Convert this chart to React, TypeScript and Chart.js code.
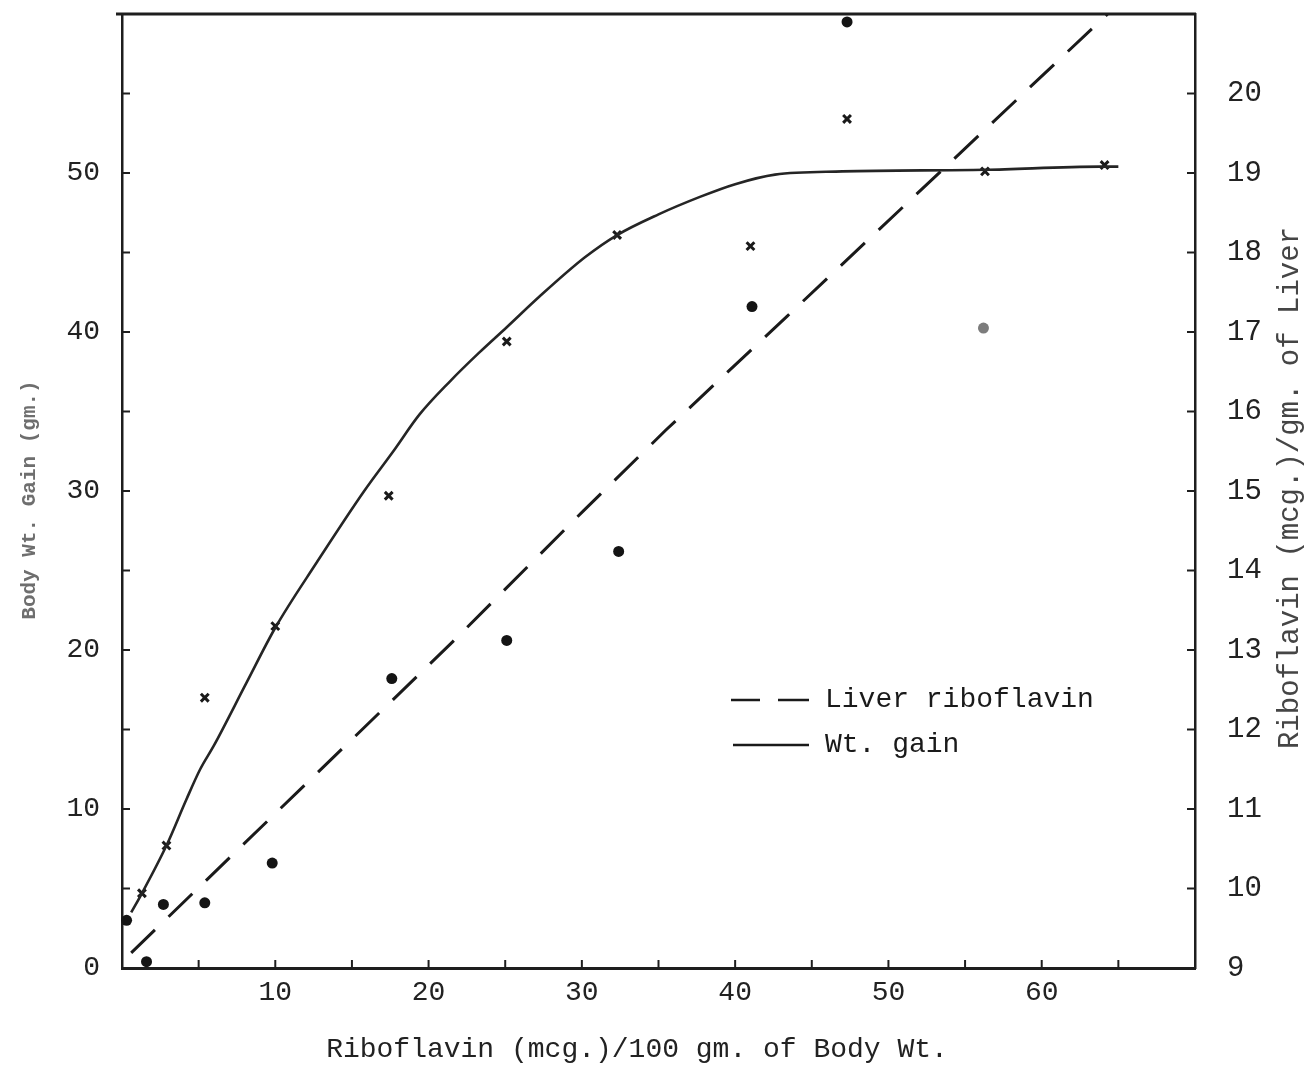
import { useEffect, useRef } from 'react';
import { Chart, registerables } from 'chart.js';

Chart.register(...registerables);

const FONT = '"Liberation Mono", "DejaVu Sans Mono", monospace';

// Tick labels
const doseTickLabels = [10, 20, 30, 40, 50, 60];
const gainTickLabels = [0, 10, 20, 30, 40, 50];
const liverTickLabels = [9, 10, 11, 12, 13, 14, 15, 16, 17, 18, 19, 20];

// Body weight gain (gm.) observed per riboflavin dose (mcg./100 gm. body wt.)
const gainDose = [1.3, 2.9, 5.4, 10.0, 17.4, 25.1, 32.3, 41.0, 47.3, 56.3, 64.1];
const gainValue = [4.7, 7.7, 17.0, 21.5, 29.7, 39.4, 46.1, 45.4, 53.4, 50.1, 50.5];

// Smoothed weight-gain curve
const gainCurveDose = [0.6, 1.3, 2.9, 4.2, 5.1, 6.0, 8.1, 10.0, 12.7, 15.8, 17.7, 19.4, 21.4, 23.3, 25.1, 27.2, 30.2, 32.3, 35.0, 37.7, 40.0, 42.6, 47.0, 56.3, 63.8, 65.0];
const gainCurveValue = [3.5, 4.7, 7.7, 10.6, 12.5, 14.0, 17.9, 21.4, 25.5, 30.0, 32.5, 34.8, 36.9, 38.7, 40.3, 42.2, 44.7, 46.1, 47.4, 48.5, 49.3, 49.9, 50.1, 50.2, 50.4, 50.4];

// Liver riboflavin (mcg./gm. of liver) observed per dose
const liverDose = [0.3, 1.6, 2.7, 5.4, 9.8, 17.6, 25.1, 32.4, 41.1, 47.3, 56.2];
const liverValue = [9.6, 9.08, 9.8, 9.82, 10.32, 12.64, 13.12, 14.24, 17.32, 20.9, 17.05];

// Fitted liver riboflavin line
const liverLineDose = [0.6, 21.4, 30.1, 35.5, 43.4, 64.3];
const liverLineValue = [9.19, 13.07, 14.75, 15.77, 17.2, 21.0];

const pairs = (xs: number[], ys: number[]) => xs.map((x, i) => ({ x, y: ys[i] }));

const framePlugin = {
  id: 'frame',
  afterDraw(chart: any) {
    const { ctx, chartArea: a, scales } = chart;
    const sx = scales.x;
    const sy = scales.y;
    const sy2 = scales.y2;
    const seg = (x1: number, y1: number, x2: number, y2: number) => {
      ctx.beginPath();
      ctx.moveTo(x1, y1);
      ctx.lineTo(x2, y2);
      ctx.stroke();
    };
    ctx.save();
    ctx.strokeStyle = '#1e1e1e';
    ctx.lineCap = 'butt';

    // top edge of the frame
    ctx.lineWidth = 3;
    seg(a.left - 6, a.top, a.right + 1, a.top);

    // inward tick marks
    ctx.lineWidth = 2;
    for (let v = 5; v < 70; v += 5) {
      const px = sx.getPixelForValue(v);
      seg(px, a.bottom, px, a.bottom - 8);
    }
    for (let v = 5; v < 60; v += 5) {
      const py = sy.getPixelForValue(v);
      seg(a.left, py, a.left + 8, py);
    }
    for (let v = 10; v <= 20; v += 1) {
      const py = sy2.getPixelForValue(v);
      seg(a.right, py, a.right - 8, py);
    }

    // legend
    const lx = a.left + 609;
    const ly1 = a.top + 686;
    const ly2 = a.top + 731;
    ctx.strokeStyle = '#1a1a1a';
    ctx.lineWidth = 2.5;
    seg(lx, ly1, lx + 29, ly1);
    seg(lx + 47, ly1, lx + 78, ly1);
    seg(lx + 2, ly2, lx + 78, ly2);
    ctx.fillStyle = '#1a1a1a';
    ctx.font = `28px ${FONT}`;
    ctx.textAlign = 'left';
    ctx.textBaseline = 'middle';
    ctx.fillText('Liver riboflavin', lx + 94, ly1);
    ctx.fillText('Wt. gain', lx + 94, ly2);

    // axis titles
    ctx.textAlign = 'center';
    ctx.fillStyle = '#222';
    ctx.font = `28px ${FONT}`;
    ctx.fillText('Riboflavin (mcg.)/100 gm. of Body Wt.', 637, 1050);

    ctx.save();
    ctx.translate(30, 500);
    ctx.rotate(-Math.PI / 2);
    ctx.fillStyle = '#6e6e6e';
    ctx.font = `bold 21px ${FONT}`;
    ctx.fillText('Body Wt. Gain (gm.)', 0, 0);
    ctx.restore();

    ctx.save();
    ctx.translate(1290, 488);
    ctx.rotate(-Math.PI / 2);
    ctx.fillStyle = '#454545';
    ctx.font = `29px ${FONT}`;
    ctx.fillText('Riboflavin (mcg.)/gm. of Liver', 0, 0);
    ctx.restore();

    ctx.restore();
  },
};

const fixVertical = (w: number) => (s: any) => {
  s.width = w;
  s.paddingTop = 0;
  s.paddingBottom = 0;
};

export default function App() {
  const canvasRef = useRef<HTMLCanvasElement | null>(null);

  useEffect(() => {
    const canvas = canvasRef.current;
    if (!canvas) return;
    const chart = new Chart(canvas, {
      type: 'scatter',
      data: {
        datasets: [
          {
            label: 'Wt. gain curve',
            data: pairs(gainCurveDose, gainCurveValue),
            yAxisID: 'y',
            showLine: true,
            borderColor: '#252525',
            borderWidth: 2.6,
            pointRadius: 0,
            cubicInterpolationMode: 'monotone',
          },
          {
            label: 'Liver riboflavin line',
            data: pairs(liverLineDose, liverLineValue),
            yAxisID: 'y2',
            showLine: true,
            borderColor: '#1a1a1a',
            borderWidth: 3,
            borderDash: [33, 19],
            pointRadius: 0,
            tension: 0,
          },
          {
            label: 'Wt. gain',
            data: pairs(gainDose, gainValue),
            yAxisID: 'y',
            pointStyle: 'crossRot',
            pointRadius: 5.5,
            pointBorderWidth: 3,
            pointBorderColor: '#1a1a1a',
            clip: false,
          },
          {
            label: 'Liver riboflavin',
            data: pairs(liverDose, liverValue),
            yAxisID: 'y2',
            pointStyle: 'circle',
            pointRadius: 5.5,
            pointBorderWidth: 0,
            pointBackgroundColor: (c: any) => (c.raw && c.raw.x > 55 ? '#7c7c7c' : '#141414'),
            clip: false,
          },
        ],
      },
      options: {
        responsive: false,
        animation: false,
        devicePixelRatio: 1,
        layout: { padding: { top: 14, left: 0, right: 0, bottom: 0 } },
        plugins: { legend: { display: false }, tooltip: { enabled: false } },
        scales: {
          x: {
            type: 'linear',
            position: 'bottom',
            min: 0,
            max: 70,
            afterFit: (s: any) => {
              s.height = 101;
              s.paddingLeft = 0;
              s.paddingRight = 0;
            },
            grid: { display: false, drawTicks: false },
            border: { display: true, color: '#1e1e1e', width: 3 },
            ticks: {
              stepSize: 10,
              autoSkip: false,
              maxRotation: 0,
              padding: 8,
              color: '#222',
              font: { family: FONT, size: 28 },
              callback: (v: any) => (doseTickLabels.includes(Number(v)) ? String(v) : ''),
            },
          },
          y: {
            type: 'linear',
            position: 'left',
            min: 0,
            max: 60,
            afterFit: fixVertical(122),
            grid: { display: false, drawTicks: false },
            border: { display: true, color: '#1e1e1e', width: 2.5 },
            ticks: {
              stepSize: 10,
              autoSkip: false,
              padding: 22,
              color: '#222',
              font: { family: FONT, size: 28 },
              callback: (v: any) => (gainTickLabels.includes(Number(v)) ? String(v) : ''),
            },
          },
          y2: {
            type: 'linear',
            position: 'right',
            min: 9,
            max: 21,
            afterFit: fixVertical(114),
            grid: { display: false, drawTicks: false },
            border: { display: true, color: '#1e1e1e', width: 2.5 },
            ticks: {
              stepSize: 1,
              autoSkip: false,
              padding: 32,
              color: '#222',
              font: { family: FONT, size: 29 },
              callback: (v: any) => (liverTickLabels.includes(Number(v)) ? String(v) : ''),
            },
          },
        },
      },
      plugins: [framePlugin],
    } as any);
    return () => chart.destroy();
  }, []);

  return (
    <div style={{ position: 'fixed', left: 0, top: 0, width: 1309, height: 1069, background: '#fff' }}>
      <canvas ref={canvasRef} width={1309} height={1069} />
    </div>
  );
}
